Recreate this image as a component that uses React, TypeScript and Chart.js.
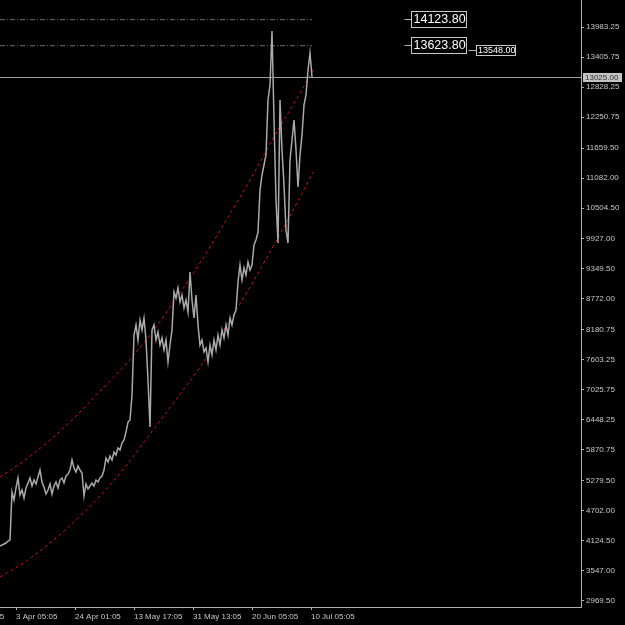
import { useEffect, useRef } from "react";
import { Chart, registerables } from "chart.js";

Chart.register(...registerables);

// ---- data ----
const barStep = 2;
const closes = [
  4024, 4043, 4062, 4081, 4120, 4139, 5060, 4906, 5137, 5329,
  5003, 5098, 4945, 5137, 5233, 5329, 5175, 5290, 5214, 5348,
  5482, 5252, 5156, 5022, 5098, 5214, 5022, 5175, 5252, 5137,
  5290, 5329, 5233, 5367, 5406, 5482, 5674, 5521, 5444, 5559,
  5482, 5425, 4983, 5214, 5118, 5175, 5233, 5175, 5290, 5252,
  5329, 5367, 5482, 5712, 5636, 5751, 5674, 5828, 5770, 5904,
  5866, 6000, 6058, 6211, 6403, 6442, 6921, 8073, 8265, 7977,
  8361, 8169, 8399, 7977, 7209, 6307, 8169, 8265, 7977, 8131,
  7881, 8015, 7785, 7977, 7555, 7881, 8169, 8898, 8783, 8975,
  8706, 8840, 8591, 8744, 8514, 9282, 8744, 8399, 8840, 8265,
  7881, 7977, 7747, 7823, 7555, 7881, 7689, 7977, 7785, 8073,
  7881, 8169, 8015, 8265, 8073, 8399, 8265, 8457, 8553, 9090,
  9416, 9128, 9359, 9224, 9474, 9320, 9416, 9800, 9896, 10049,
  10855, 11143, 11335, 11527, 12582, 12870, 13907, 12199, 10663, 9838,
  12582, 11623, 10951, 10088, 9838, 11431, 11815, 12199, 11623, 10913,
  11527, 11911, 12486, 12678, 13158, 13484, 13025,
];

const channelBars = [0, 25, 50, 75, 100, 125, 150, 175, 200, 225, 250, 275, 300, 313];
const upperValues = [5348, 5674, 6058, 6499, 6998, 7497, 8073, 8744, 9455, 10241, 11047, 11911, 12717, 13158];
const lowerValues = [3429, 3717, 4081, 4504, 4983, 5540, 6173, 6806, 7459, 8207, 8994, 9838, 10721, 11201];

const yTickValues = [
  13983.25, 13405.75, 12828.25, 12250.75, 11659.5, 11082.0, 10504.5, 9927.0, 9349.5, 8772.0,
  8180.75, 7603.25, 7025.75, 6448.25, 5870.75, 5279.5, 4702.0, 4124.5, 3547.0, 2969.5,
];
const xTickBars = [-43, 16, 75, 134, 193, 252, 311];
const xTickLabels = [
  "13 Mar 05:05", "3 Apr 05:05", "24 Apr 01:05", "13 May 17:05", "31 May 13:05", "20 Jun 05:05", "10 Jul 05:05",
];

const levelValues = [14123.8, 13623.8];
const stopValue = 13548.0;
const currentPrice = 13025.0;

const yMin = 2853.4;
const yMax = 14501.4;
const xMax = 581;
const levelTagBar = 411;
const stopTagBar = 476;

const FONT = "'Liberation Sans', Arial, sans-serif";

export default function App() {
  const ref = useRef<HTMLCanvasElement | null>(null);

  useEffect(() => {
    document.body.style.margin = "0";
    document.body.style.background = "#000";
    const canvas = ref.current;
    if (!canvas) return;
    const lastBar = (closes.length - 1) * barStep;

    const overlay = {
      id: "overlay",
      beforeDraw(chart: any) {
        const { ctx, width, height } = chart;
        ctx.save();
        ctx.fillStyle = "#000";
        ctx.fillRect(0, 0, width, height);
        ctx.restore();
      },
      afterDraw(chart: any) {
        const { ctx, chartArea } = chart;
        const x = chart.scales.x;
        const y = chart.scales.y;
        ctx.save();
        // current price line
        const yc = Math.round(y.getPixelForValue(currentPrice)) + 0.5;
        ctx.strokeStyle = "#a0a0a0";
        ctx.lineWidth = 1;
        ctx.beginPath();
        ctx.moveTo(chartArea.left, yc);
        ctx.lineTo(chartArea.right, yc);
        ctx.stroke();
        // price tag on axis
        ctx.fillStyle = "#c4c4c4";
        ctx.fillRect(chartArea.right + 2, yc - 4.5, 39, 9);
        ctx.fillStyle = "#303030";
        ctx.font = `8px ${FONT}`;
        ctx.textBaseline = "middle";
        ctx.textAlign = "left";
        ctx.fillText(currentPrice.toFixed(2), chartArea.right + 4, yc + 0.5);

        // level tags
        const bx = Math.round(x.getPixelForValue(levelTagBar)) + 0.5;
        levelValues.forEach((v) => {
          const yl = Math.round(y.getPixelForValue(v)) - 0.5;
          ctx.strokeStyle = "#b0b0b0";
          ctx.beginPath();
          ctx.moveTo(bx - 7, yl);
          ctx.lineTo(bx, yl);
          ctx.stroke();
          ctx.fillStyle = "#000";
          ctx.fillRect(bx, yl - 8, 55, 16);
          ctx.strokeStyle = "#c8c8c8";
          ctx.strokeRect(bx, yl - 8, 55, 16);
          ctx.fillStyle = "#ffffff";
          ctx.font = `12.5px ${FONT}`;
          ctx.fillText(v.toFixed(2), bx + 2, yl + 0.5);
        });
        // stop tag
        const sx = Math.round(x.getPixelForValue(stopTagBar)) + 0.5;
        const ys = Math.round(y.getPixelForValue(stopValue)) + 0.5;
        ctx.strokeStyle = "#b0b0b0";
        ctx.beginPath();
        ctx.moveTo(sx - 8, ys);
        ctx.lineTo(sx, ys);
        ctx.stroke();
        ctx.fillStyle = "#000";
        ctx.fillRect(sx, ys - 5, 39, 10);
        ctx.strokeStyle = "#c8c8c8";
        ctx.strokeRect(sx, ys - 5, 39, 10);
        ctx.fillStyle = "#ffffff";
        ctx.font = `9px ${FONT}`;
        ctx.fillText(stopValue.toFixed(2), sx + 1.5, ys + 0.5);
        ctx.restore();
      },
    };

    const chart = new Chart(canvas, {
      type: "line",
      data: {
        datasets: [
          {
            label: "price",
            data: closes.map((v, i) => ({ x: i * barStep, y: v })),
            borderColor: "#aaaaaa",
            borderWidth: 1.5,
            pointRadius: 0,
            tension: 0,
          },
          {
            label: "upper",
            data: channelBars.map((b, i) => ({ x: b, y: upperValues[i] })),
            borderColor: "#c81414",
            borderWidth: 1,
            borderDash: [3, 3],
            pointRadius: 0,
            cubicInterpolationMode: "monotone",
          },
          {
            label: "lower",
            data: channelBars.map((b, i) => ({ x: b, y: lowerValues[i] })),
            borderColor: "#c81414",
            borderWidth: 1,
            borderDash: [3, 3],
            pointRadius: 0,
            cubicInterpolationMode: "monotone",
          },
          ...levelValues.map((v) => ({
            label: "level " + v,
            data: [
              { x: 0, y: v },
              { x: lastBar, y: v },
            ],
            borderColor: "#6c6c6c",
            borderWidth: 1,
            borderDash: [5, 2, 1, 2],
            pointRadius: 0,
          })),
        ],
      },
      options: {
        animation: false,
        responsive: false,
        maintainAspectRatio: false,
        layout: { padding: 0 },
        plugins: { legend: { display: false }, tooltip: { enabled: false } },
        scales: {
          x: {
            type: "linear",
            min: 0,
            max: xMax,
            afterBuildTicks: (s: any) => {
              s.ticks = xTickBars.map((v) => ({ value: v }));
            },
            afterFit: (s: any) => {
              s.height = 18;
              s.paddingLeft = 0;
              s.paddingRight = 0;
            },
            grid: { display: true, drawOnChartArea: false, drawTicks: true, tickLength: 3, color: "#b0b0b0" },
            border: { display: true, color: "#b0b0b0" },
            ticks: {
              autoSkip: false,
              maxRotation: 0,
              align: "start",
              padding: 2,
              color: "#c8c8c8",
              font: { family: FONT, size: 8 },
              callback: (v: any) => xTickLabels[xTickBars.indexOf(Number(v))] ?? "",
            },
          },
          y: {
            type: "linear",
            position: "right",
            min: yMin,
            max: yMax,
            afterBuildTicks: (s: any) => {
              s.ticks = yTickValues.map((v) => ({ value: v }));
            },
            afterFit: (s: any) => {
              s.width = 44;
              s.paddingTop = 0;
              s.paddingBottom = 0;
            },
            grid: { display: true, drawOnChartArea: false, drawTicks: true, tickLength: 3, color: "#b0b0b0" },
            border: { display: true, color: "#b0b0b0" },
            ticks: {
              autoSkip: false,
              padding: 2,
              color: "#c8c8c8",
              font: { family: FONT, size: 8 },
              callback: (v: any) => Number(v).toFixed(2),
            },
          },
        },
      },
      plugins: [overlay],
    });
    return () => chart.destroy();
  }, []);

  return (
    <div style={{ width: 625, height: 625, background: "#000" }}>
      <canvas ref={ref} width={625} height={625} style={{ display: "block" }} />
    </div>
  );
}
